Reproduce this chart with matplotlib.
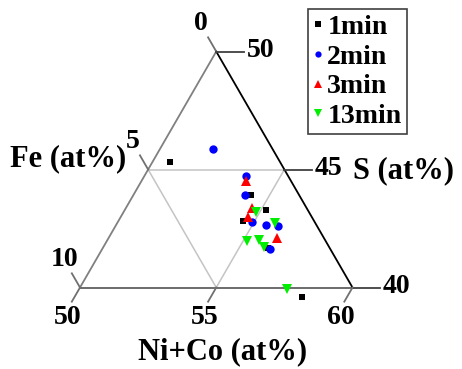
import numpy as np
import matplotlib
matplotlib.use("Agg")
import matplotlib.pyplot as plt

plt.rcParams['font.family'] = ['Liberation Serif', 'DejaVu Serif']
plt.rcParams['font.weight'] = 'bold'

# composition of each point: Fe, S, Ni+Co (at%)
fe_1min = [4.04, 1.77, 1.54, 2.61, 2.27, 2.05]
s_1min = [45.31, 43.94, 43.28, 42.81, 41.67, 39.60]
ni_1min = [50.65, 54.29, 55.19, 54.58, 56.06, 58.35]

fe_2min = [2.19, 1.54, 1.96, 2.29, 1.86, 1.42, 2.20]
s_2min = [45.89, 44.74, 43.94, 42.79, 42.64, 42.62, 41.63]
ni_2min = [51.93, 53.72, 54.10, 54.92, 55.49, 55.96, 56.18]

fe_3min = [1.64, 1.99, 2.34, 1.74]
s_3min = [44.50, 43.38, 42.98, 42.09]
ni_3min = [53.86, 54.63, 54.67, 56.16]

fe_13min = [1.95, 1.47, 2.90, 2.43, 2.40, 2.45]
s_13min = [43.19, 42.75, 41.97, 42.03, 41.71, 39.92]
ni_13min = [54.86, 55.78, 55.13, 55.54, 55.89, 57.64]

fe_ticks = [0, 5, 10]
s_ticks = [50, 45, 40]
ni_ticks = [50, 55, 60]

H = np.sqrt(3) / 2


def to_xy(fe, s, ni):
    # triangle: top (Fe0,S50,Ni50), left (Fe10,S40,Ni50), right (Fe0,S40,Ni60)
    fe, s, ni = np.asarray(fe, float), np.asarray(s, float), np.asarray(ni, float)
    tot = fe + s + ni
    s, ni = s * 100 / tot, ni * 100 / tot
    a = (s - 40) / 10
    c = (ni - 50) / 10
    return c + a / 2, a * H


fig = plt.figure(figsize=(4.62, 3.69), dpi=100)
ax = fig.add_axes([0, 0, 1, 1])
ax.set_xlim(-80 / 272.5, 382 / 272.5)
ax.set_ylim(-81.5 / 272.5, 287.5 / 272.5)
ax.set_aspect('equal')
ax.axis('off')

top = to_xy(0, 50, 50)
left = to_xy(10, 40, 50)
right = to_xy(0, 40, 60)

# inner grid lines
grid_c = '#c4c4c4'
ax.plot(*zip(to_xy(5, 45, 50), to_xy(0, 45, 55)), color=grid_c, lw=1.1, zorder=1)
ax.plot(*zip(to_xy(5, 45, 50), to_xy(5, 40, 55)), color=grid_c, lw=1.1, zorder=1)
ax.plot(*zip(to_xy(0, 45, 55), to_xy(5, 40, 55)), color=grid_c, lw=1.1, zorder=1)

# triangle edges
ax.plot(*zip(top, left), color='#808080', lw=1.3, zorder=2)
ax.plot(*zip(left, right), color='#606060', lw=1.3, zorder=2)
ax.plot(*zip(top, right), color='black', lw=1.3, zorder=2)

# ticks and tick labels
tl = 0.06
for v in fe_ticks:
    x0, y0 = to_xy(v, 50 - v, 50)
    ax.plot([x0, x0 - 0.5 * tl], [y0, y0 + H * tl], color='#707070', lw=1.3)
    ax.annotate(str(v), (x0, y0), xytext=(-15, 28), textcoords='offset pixels',
                ha='center', va='center', fontsize=20)
for v in s_ticks:
    x0, y0 = to_xy(0, v, 100 - v)
    ax.plot([x0, x0 + 0.1], [y0, y0], color='#404040', lw=1.3)
    ax.annotate(str(v), (x0, y0), xytext=(44, 1), textcoords='offset pixels',
                ha='center', va='center', fontsize=20)
for v in ni_ticks:
    x0, y0 = to_xy(100 - 40 - v, 40, v)
    ax.plot([x0, x0 - 0.5 * tl], [y0, y0 - H * tl], color='#707070', lw=1.3)
    ax.annotate(str(v), (x0, y0), xytext=(-12, -30), textcoords='offset pixels',
                ha='center', va='center', fontsize=20)

# axis titles
ax.annotate('Fe (at%)', to_xy(5, 45, 50), xytext=(-80, 11), textcoords='offset pixels',
            ha='center', va='center', fontsize=22)
ax.annotate('S (at%)', to_xy(0, 45, 55), xytext=(119, -1), textcoords='offset pixels',
            ha='center', va='center', fontsize=22)
ax.annotate('Ni+Co (at%)', to_xy(5, 40, 55), xytext=(6, -64), textcoords='offset pixels',
            ha='center', va='center', fontsize=22)

# data
series = [
    (fe_1min, s_1min, ni_1min, 's', 'black', 5, '1min'),
    (fe_2min, s_2min, ni_2min, 'o', 'blue', 6, '2min'),
    (fe_3min, s_3min, ni_3min, '^', 'red', 7, '3min'),
    (fe_13min, s_13min, ni_13min, 'v', '#00ee00', 7, '13min'),
]
handles = []
for fe, s, ni, mk, col, ms, lab in series:
    x, y = to_xy(fe, s, ni)
    h, = ax.plot(x, y, linestyle='none', marker=mk, color=col, markersize=ms,
                 markeredgewidth=0, label=lab, zorder=3)
    handles.append(h)

leg = ax.legend(handles=handles, loc='upper right',
                bbox_to_anchor=(407 / 462, 1 - 9 / 369), bbox_transform=fig.transFigure,
                fancybox=False, edgecolor='#404040', framealpha=1,
                prop={'family': 'Liberation Serif', 'weight': 'bold', 'size': 20},
                handlelength=0.3, handletextpad=0.2, borderpad=0.2,
                labelspacing=0.15, borderaxespad=0, markerscale=0.75)
leg.get_frame().set_linewidth(1.2)

fig.savefig('out.png', dpi=100)
